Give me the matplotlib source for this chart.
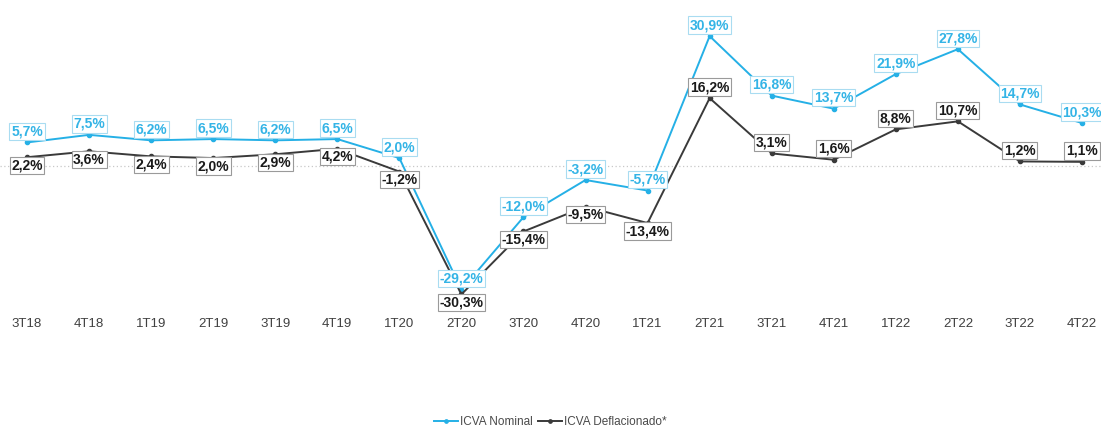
import matplotlib
matplotlib.use("Agg")
import matplotlib.pyplot as plt

plt.rcParams['font.family'] = ['Liberation Sans', 'DejaVu Sans']

categories = ["3T18", "4T18", "1T19", "2T19", "3T19", "4T19", "1T20", "2T20", "3T20",
              "4T20", "1T21", "2T21", "3T21", "4T21", "1T22", "2T22", "3T22", "4T22"]
nominal = [5.7, 7.5, 6.2, 6.5, 6.2, 6.5, 2.0, -29.2, -12.0, -3.2, -5.7, 30.9, 16.8, 13.7, 21.9, 27.8, 14.7, 10.3]
deflated = [2.2, 3.6, 2.4, 2.0, 2.9, 4.2, -1.2, -30.3, -15.4, -9.5, -13.4, 16.2, 3.1, 1.6, 8.8, 10.7, 1.2, 1.1]

# label vertical offsets in pixels (style)
nom_dy = [11] * len(nominal)
def_dy = [-8] * 11 + [11] * 7

BLUE = "#25b0e6"
BLUE_TXT = "#34b4e6"
BLUE_EDGE = "#a9dcf1"
DARK = "#3a3a3a"
DARK_TXT = "#1a1a1a"
DARK_EDGE = "#9a9a9a"

fig = plt.figure(figsize=(11.01, 4.28), dpi=100)
# zero at ~166.5 px, 4.22 px per %
ymin, ymax = -35.0, 39.0
px0 = 166.5
k = 4.22
top_px = px0 - ymax * k
bot_px = px0 - ymin * k
ax = fig.add_axes([0, 1 - bot_px / 428, 1, (bot_px - top_px) / 428])
ax.set_ylim(ymin, ymax)
x = list(range(len(categories)))
ax.set_xlim(-0.435, len(categories) - 1 + 0.306)

ax.axhline(0, color="#c8c8c8", lw=0.9, ls=(0, (1, 2)), zorder=1)

ax.plot(x, nominal, color=BLUE, lw=1.4, marker='o', ms=3, label="ICVA Nominal", zorder=3)
ax.plot(x, deflated, color=DARK, lw=1.4, marker='o', ms=3, label="ICVA Deflacionado*", zorder=3)

def fmt(v):
    return (f"{v:.1f}%").replace(".", ",")

for xi, v, dy in zip(x, nominal, nom_dy):
    ax.annotate(fmt(v), (xi, v), xytext=(0, dy), textcoords='offset pixels',
                ha='center', va='center', fontsize=10, fontweight='bold', color=BLUE_TXT,
                bbox=dict(boxstyle='square,pad=0.12', fc='white', ec=BLUE_EDGE, lw=0.8), zorder=5)
for xi, v, dy in zip(x, deflated, def_dy):
    ax.annotate(fmt(v), (xi, v), xytext=(0, dy), textcoords='offset pixels',
                ha='center', va='center', fontsize=10, fontweight='bold', color=DARK_TXT,
                bbox=dict(boxstyle='square,pad=0.12', fc='white', ec=DARK_EDGE, lw=0.8), zorder=5)

ax.set_xticks(x)
ax.set_xticklabels(categories, fontsize=9.5, color="#404040")
ax.tick_params(axis='x', length=0, pad=2.5)
ax.set_yticks([])
for s in ax.spines.values():
    s.set_visible(False)
ax.patch.set_alpha(0)

fig.legend(loc='center', bbox_to_anchor=(0.5, 1 - 422 / 428), ncol=2, frameon=False,
           fontsize=8.5, labelcolor="#4a4a4a", handlelength=2.0, handletextpad=0.2,
           columnspacing=0.4, markerscale=0.8)

fig.savefig("out.png", dpi=100)
